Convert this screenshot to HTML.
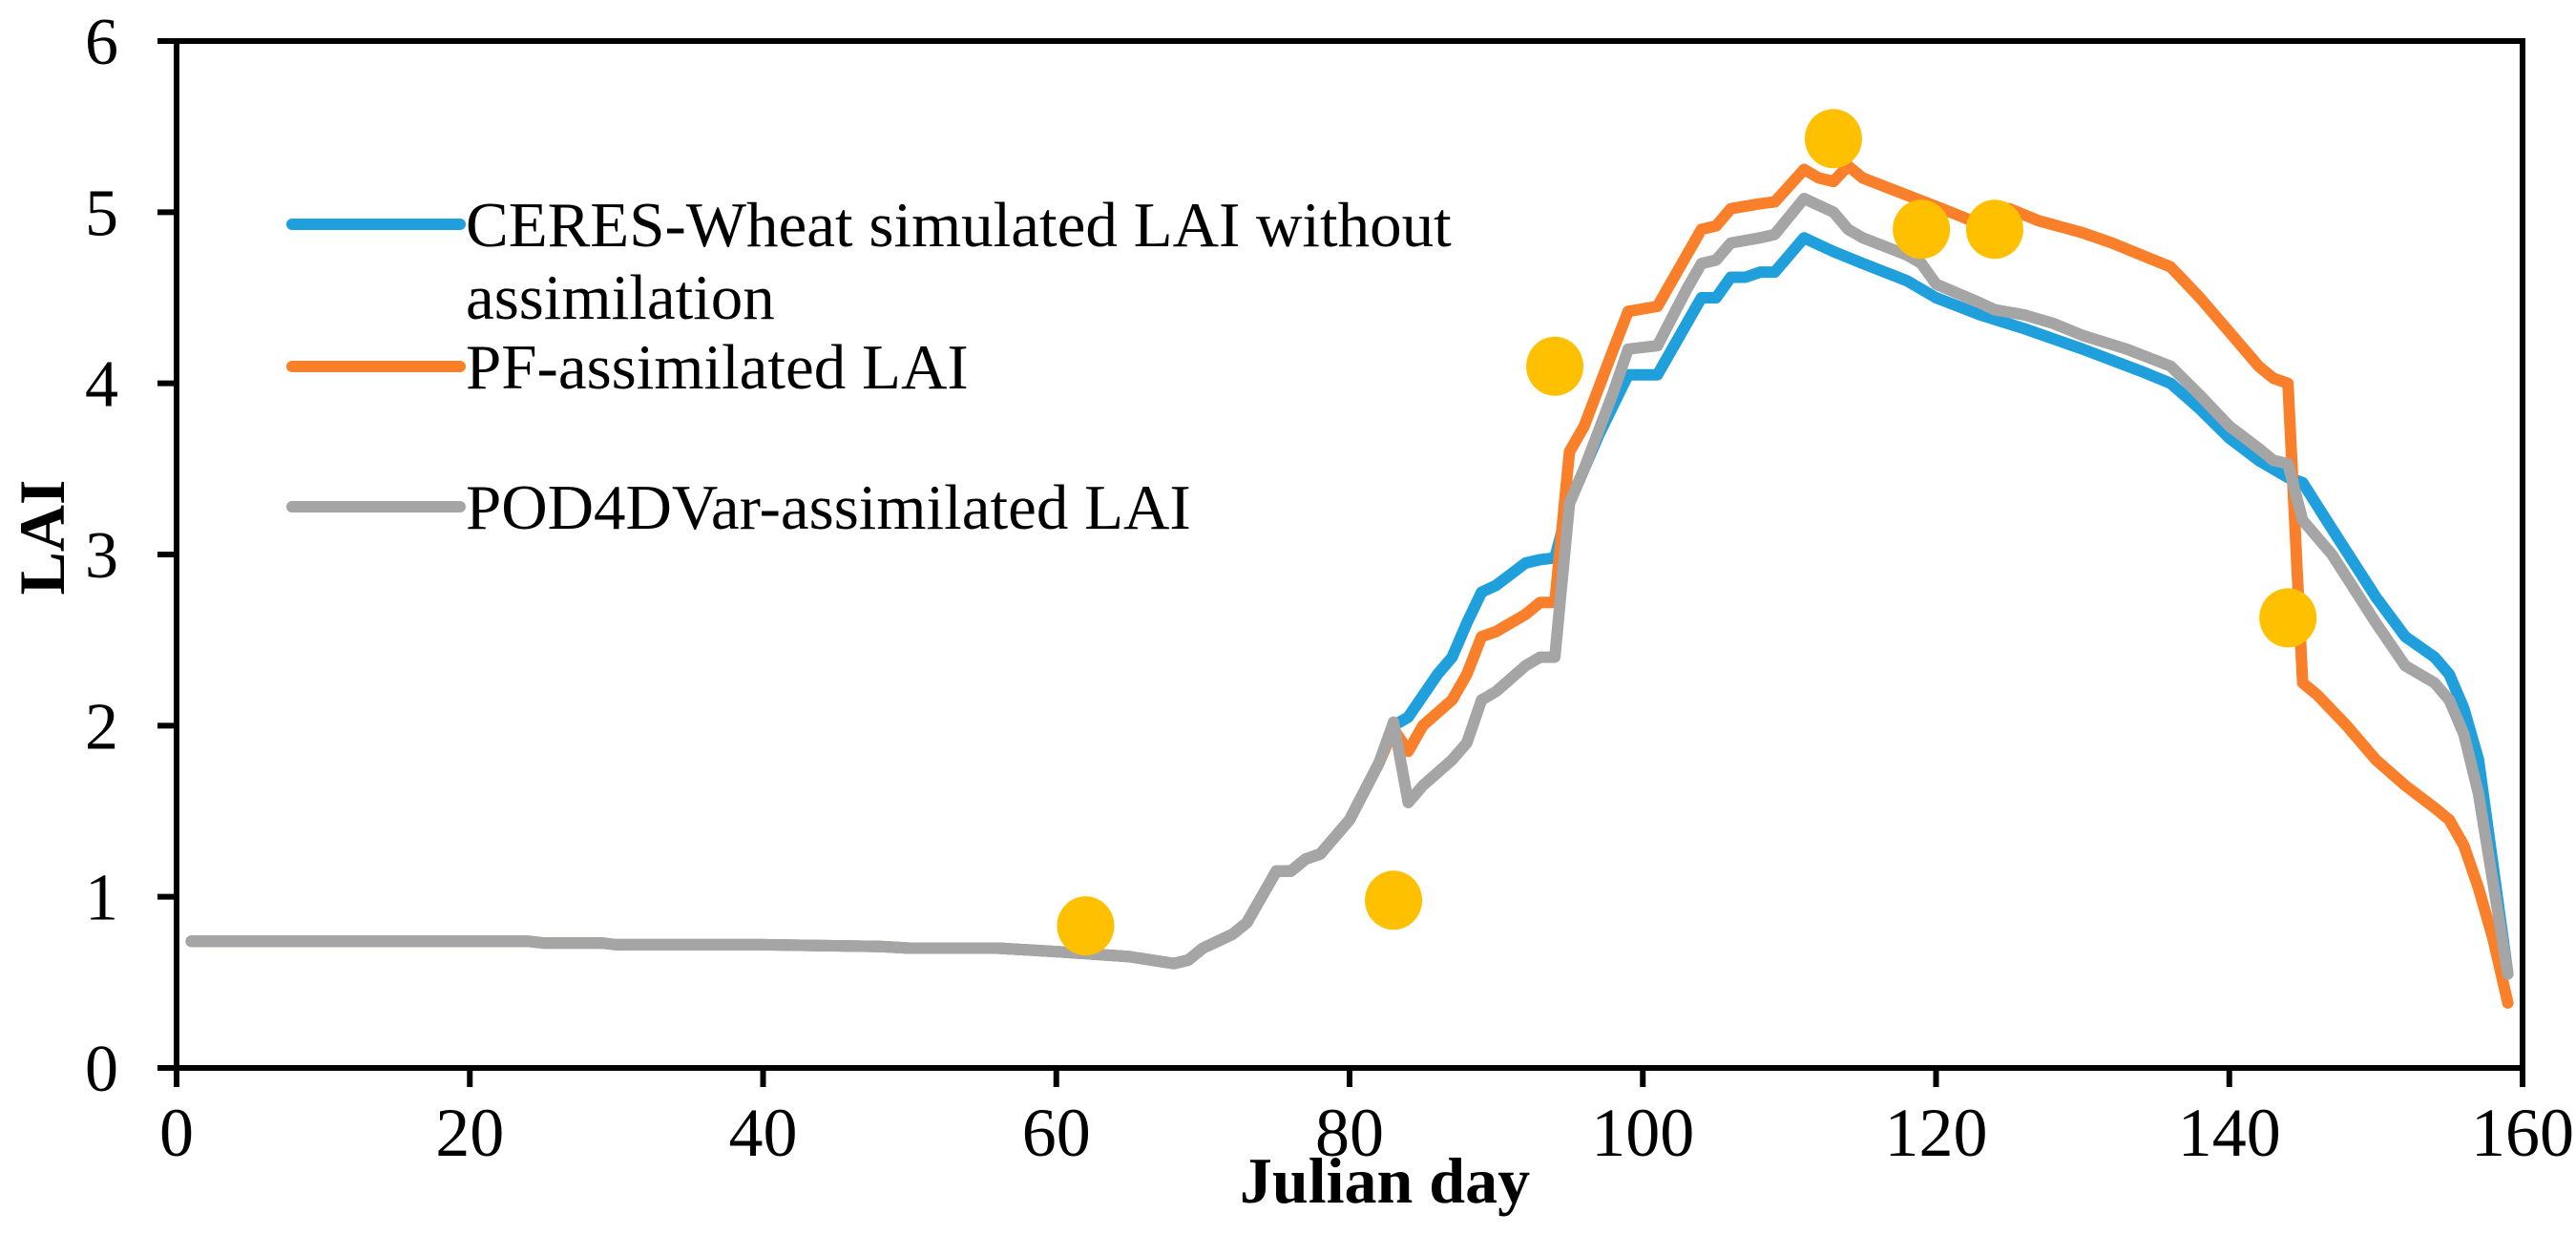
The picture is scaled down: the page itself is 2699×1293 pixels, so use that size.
<!DOCTYPE html>
<html><head><meta charset="utf-8"><style>
html,body{margin:0;padding:0;background:#fff;}
svg{display:block;font-family:"Liberation Serif",serif;}
</style></head><body>
<svg id="chart" width="2699" height="1293" viewBox="0 0 2699 1293">
<rect x="0" y="0" width="2699" height="1293" fill="#fff"/>
<g id="lines"></g>
<g id="dots"></g>
<g id="axes"></g>
<g id="legend">
  <line x1="306" y1="235" x2="482" y2="235" stroke="#1F9FDC" stroke-width="12" stroke-linecap="round"/>
  <text x="488" y="258" font-size="67">CERES-Wheat simulated LAI without</text>
  <text x="488" y="334" font-size="67">assimilation</text>
  <line x1="306" y1="384" x2="482" y2="384" stroke="#FA7F2A" stroke-width="12" stroke-linecap="round"/>
  <text x="488" y="407" font-size="67">PF-assimilated LAI</text>
  <line x1="306" y1="531" x2="482" y2="531" stroke="#A5A5A5" stroke-width="12" stroke-linecap="round"/>
  <text x="488" y="554" font-size="67">POD4DVar-assimilated LAI</text>
</g>
<text x="67" y="563" font-size="68" font-weight="bold" text-anchor="middle" transform="rotate(-90 67 563)">LAI</text>
<text x="1451" y="1260" font-size="68" font-weight="bold" text-anchor="middle">Julian day</text>
</svg>
<script>
const xTicks=[0,20,40,60,80,100,120,140,160];
const yTicks=[0,1,2,3,4,5,6];
const commonDays=[1,24,25,29,30,40,48,50,56,60,65,68,69,70,72,73,75,76,77,78,80,82];
const commonVals=[0.74,0.74,0.73,0.73,0.72,0.72,0.71,0.70,0.70,0.68,0.65,0.61,0.63,0.70,0.78,0.85,1.15,1.15,1.22,1.25,1.45,1.78];
const ceresDays=[83,84,86,87,88,89,90,92,93,94,95,97,99,100,101,103,104,105,106,107,108,109,111,113,115,118,120,123,126,130,134,136,138,140,142,144,145,147,150,152,154,155,156,157,159];
const ceresVals=[2.0,2.05,2.3,2.4,2.6,2.78,2.82,2.95,2.97,2.98,3.3,3.7,4.05,4.05,4.05,4.35,4.5,4.5,4.62,4.62,4.65,4.65,4.85,4.77,4.7,4.6,4.5,4.4,4.32,4.2,4.07,4.0,3.85,3.68,3.55,3.45,3.42,3.15,2.75,2.52,2.4,2.3,2.1,1.8,0.55];
const pfDays=[83,84,85,87,88,89,90,92,93,94,95,96,98,99,101,103,104,105,106,108,109,111,112,113,114,115,118,121,123,125,127,130,132,134,136,138,140,142,143,144,145,146,148,150,152,154,155,156,157,158,159];
const pfVals=[1.98,1.85,2.0,2.15,2.3,2.52,2.55,2.65,2.72,2.72,3.6,3.75,4.2,4.42,4.45,4.75,4.9,4.92,5.02,5.05,5.06,5.25,5.2,5.18,5.27,5.2,5.1,5.0,4.93,5.02,4.95,4.88,4.82,4.75,4.68,4.5,4.3,4.1,4.03,4.0,2.25,2.18,2.0,1.8,1.65,1.52,1.45,1.3,1.05,0.75,0.38];
const podDays=[83,84,85,87,88,89,90,92,93,94,95,96,98,99,101,103,104,105,106,108,109,111,113,114,115,118,119,120,123,124,126,128,130,133,136,138,140,142,143,144,145,147,150,152,154,155,156,157,159];
const podVals=[2.02,1.55,1.65,1.8,1.9,2.15,2.2,2.35,2.4,2.4,3.3,3.5,3.95,4.2,4.22,4.55,4.7,4.72,4.82,4.85,4.87,5.08,5.0,4.9,4.85,4.75,4.7,4.58,4.47,4.43,4.4,4.35,4.28,4.2,4.1,3.93,3.75,3.62,3.55,3.53,3.2,3.0,2.6,2.35,2.25,2.15,1.95,1.6,0.55];
const obsDays=[62,83,94,113,119,124,144];
const obsVals=[0.83,0.98,4.1,5.43,4.9,4.9,2.63];

const L=185,R=2643,T=43,B=1119;
const xs=d=>L+(d-0)/(160-0)*(R-L);
const ys=v=>B-(v-0)/(6-0)*(B-T);
const NS='http://www.w3.org/2000/svg';
function mk(tag,attrs,parent){const e=document.createElementNS(NS,tag);for(const k in attrs)e.setAttribute(k,attrs[k]);parent.appendChild(e);return e;}
const linesG=document.getElementById('lines'),dotsG=document.getElementById('dots'),axG=document.getElementById('axes');
function series(days,vals,color,name){
  const d=commonDays.concat(days),v=commonVals.concat(vals);
  const pts=d.map((x,i)=>xs(x).toFixed(1)+','+ys(v[i]).toFixed(1)).join(' ');
  const p=mk('polyline',{points:pts,fill:'none',stroke:color,'stroke-width':12,'stroke-linejoin':'round','stroke-linecap':'round'},linesG);
  
  
}
series(ceresDays,ceresVals,'#1F9FDC','ceres-line');
series(pfDays,pfVals,'#FA7F2A','pf-line');
series(podDays,podVals,'#A5A5A5','pod4dvar-line');
obsDays.forEach((d,i)=>{
  const c=mk('ellipse',{cx:xs(d),cy:ys(obsVals[i]),rx:30,ry:31,fill:'#FFC000'},dotsG);
  
  
});
const frame=mk('rect',{x:L,y:T,width:R-L,height:B-T,fill:'none',stroke:'#000','stroke-width':6},axG);


xTicks.forEach(t=>{
  const l=mk('line',{x1:xs(t),y1:B,x2:xs(t),y2:B+20,stroke:'#000','stroke-width':6},axG);
  
  
  const tx=mk('text',{x:xs(t),y:B+92,'font-size':72,'text-anchor':'middle'},axG);
  tx.textContent=t;
  
  
});
yTicks.forEach(t=>{
  const l=mk('line',{x1:L-20,y1:ys(t),x2:L,y2:ys(t),stroke:'#000','stroke-width':6},axG);
  
  
  const tx=mk('text',{x:L-61,y:ys(t)+24,'font-size':70,'text-anchor':'end'},axG);
  tx.textContent=t;
  
  
});
</script>
</body></html>
